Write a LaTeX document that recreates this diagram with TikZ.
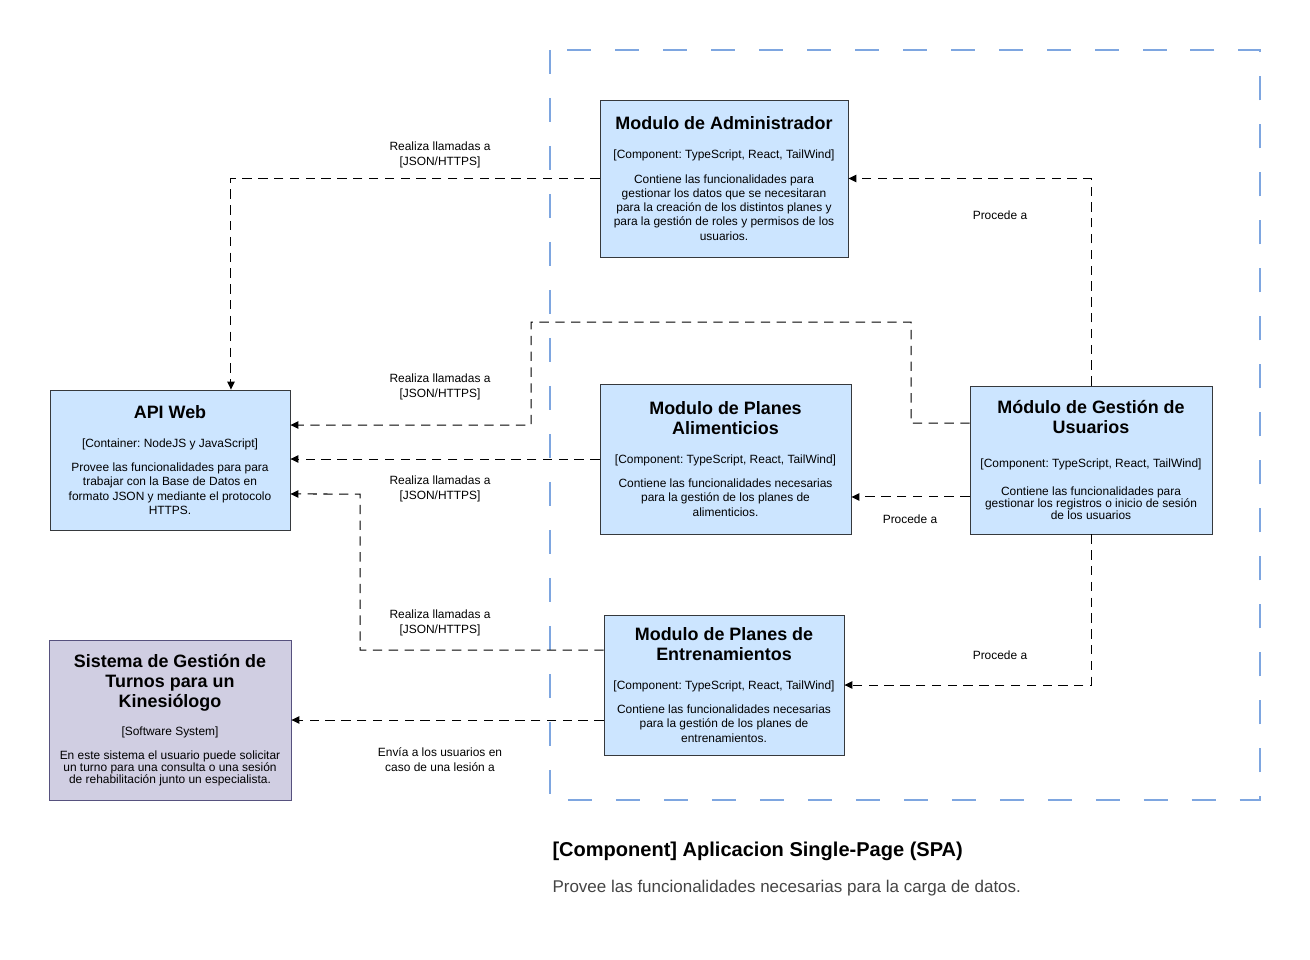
\documentclass[tikz,border=0pt]{standalone}
\usepackage{fontspec}
\setmainfont{Liberation Sans}
\usepackage{xcolor}
\usetikzlibrary{arrows.meta}

\definecolor{boxblue}{HTML}{CCE5FF}
\definecolor{boxline}{HTML}{36393D}
\definecolor{sysfill}{HTML}{D0CEE2}
\definecolor{sysline}{HTML}{56517E}
\definecolor{spablue}{HTML}{7EA6E0}
\definecolor{subgray}{HTML}{444444}

% natural word spaces of the font (align=center would force wider ones)
\newcommand{\natsp}{\frenchspacing\spaceskip=0pt\xspaceskip=0pt\relax}
% text blocks inside the boxes
\newcommand{\boxtitle}[1]{{\centering\natsp\fontsize{10.2}{11.3}\selectfont\bfseries #1\par}}
\newcommand{\boxtech}[2][8.3pt]{\vspace{#1}{\centering\natsp\fontsize{6.8}{8.1}\selectfont #2\par}}
\newcommand{\boxdesc}[2][8.1pt]{\vspace{\dimexpr 13.9pt-#1\relax}{\centering\natsp\fontsize{6.8}{#1}\selectfont #2\par}}

\begin{document}
\begin{tikzpicture}[
                x = 0.02cm, y = -0.02cm, % pixel grid
                > = {Triangle[length=4.5pt,width=4.2pt]}, % arrow head style
                semithick % line style
        ]

        \tikzstyle{component}=[
            draw = boxline,
            fill = boxblue,
            line width = 0.5pt,
            inner sep = 0pt,
            align = center
        ]
        \tikzstyle{system}=[
            component,
            draw = sysline,
            fill = sysfill
        ]
        \tikzstyle{rel}=[
            ->,
            line width = 0.57pt,
            dash pattern = on 5.3pt off 3.7pt
        ]
        \tikzstyle{rellabel}=[
            font = \fontsize{6.8}{8.5}\selectfont,
            align = center,
            inner sep = 0pt
        ]

        \useasboundingbox (0,0) rectangle (1310,959);

        % boundary of the SPA
        \draw[spablue, line width=1.13pt, dash pattern=on 0.48cm off 0.48cm] (550,50) rectangle (1260,800);

        \node[component, minimum width=4.96cm, minimum height=3.14cm, text width=4.86cm] (admin) at (724,178.5) {
            \boxtitle{Modulo de Administrador}
            \boxtech{[Component: TypeScript, React, TailWind]}
            \boxdesc{Contiene las funcionalidades para\\ gestionar los datos que se necesitaran\\ para la creación de los distintos planes y\\ para la gestión de roles y permisos de los\\ usuarios.}
        };
        \node[component, minimum width=4.8cm, minimum height=2.8cm, text width=4.7cm] (api) at (170,460) {
            \boxtitle{API Web}
            \boxtech{[Container: NodeJS y JavaScript]}
            \boxdesc{Provee las funcionalidades para para\\ trabajar con la Base de Datos en\\ formato JSON y mediante el protocolo\\ HTTPS.}
        };
        \node[system, minimum width=4.84cm, minimum height=3.2cm, text width=4.74cm] (kine) at (170,720) {
            \boxtitle{Sistema de Gestión de\\ Turnos para un\\ Kinesiólogo}
            \boxtech[7.8pt]{[Software System]}
            \boxdesc[6.8pt]{En este sistema el usuario puede solicitar\\ un turno para una consulta o una sesión\\ de rehabilitación junto un especialista.}
        };
        \node[component, minimum width=5.02cm, minimum height=3cm, text width=4.92cm] (alim) at (725.5,459) {
            \boxtitle{Modulo de Planes\\ Alimenticios}
            \boxtech{[Component: TypeScript, React, TailWind]}
            \boxdesc{Contiene las funcionalidades necesarias\\ para la gestión de los planes de\\ alimenticios.}
        };
        \node[component, minimum width=4.84cm, minimum height=2.96cm, text width=4.74cm] (users) at (1091,460) {
            \boxtitle{Módulo de Gestión de\\ Usuarios}
            \boxtech[11.2pt]{[Component: TypeScript, React, TailWind]}
            \vspace{2pt}
            \boxdesc[6.8pt]{Contiene las funcionalidades para\\ gestionar los registros o inicio de sesión\\ de los usuarios}
        };
        \node[component, minimum width=4.8cm, minimum height=2.8cm, text width=4.7cm] (train) at (724,685) {
            \boxtitle{Modulo de Planes de\\ Entrenamientos}
            \boxtech{[Component: TypeScript, React, TailWind]}
            \boxdesc{Contiene las funcionalidades necesarias\\ para la gestión de los planes de\\ entrenamientos.}
        };

        % relations
        \draw[rel] (admin.west) -| ([xshift=1.22cm]api.north);
        \draw[rel] (users.north) |- (admin.east);
        \draw[rel] ([yshift=0.74cm]users.west) -- (911,423) -- (911,322) -- (531,322) -- (531,425) -- ([yshift=0.7cm]api.east);
        \draw[rel] (alim.west) -- (alim.west -| api.east);
        \draw[rel] ([yshift=0.7cm]train.west) -- (360,650) -- (360,494) -- ([yshift=-0.68cm]api.east);
        \draw[rel] ([yshift=-0.74cm]users.west) -- ([yshift=-0.74cm]users.west -| alim.east);
        \draw[rel] (users.south) |- (train.east);
        \draw[rel] ([yshift=-0.7cm]train.west) -- ([yshift=-0.7cm]train.west -| kine.east);

        \node[rellabel] (lblAdmin) at (440,155) {\natsp Realiza llamadas a\\ {[JSON/HTTPS]}};
        \node[rellabel] (lblUsers) at (440,387) {\natsp Realiza llamadas a\\ {[JSON/HTTPS]}};
        \node[rellabel] (lblAlim) at (440,489) {\natsp Realiza llamadas a\\ {[JSON/HTTPS]}};
        \node[rellabel] (lblTrain) at (440,623) {\natsp Realiza llamadas a\\ {[JSON/HTTPS]}};
        \node[rellabel] (lblKine) at (440,760) {\natsp Envía a los usuarios en\\ caso de una lesión a};
        \node[rellabel] (procAdmin) at (1000,215) {\natsp Procede a};
        \node[rellabel] (procAlim) at (910,519) {\natsp Procede a};
        \node[rellabel] (procTrain) at (1000,655) {\natsp Procede a};

        % caption of the boundary
        \node[anchor=west, inner sep=0pt, font=\fontsize{11.4}{13}\selectfont\bfseries] (spaTitle) at (552,851) {[Component] Aplicacion Single-Page (SPA)};
        \node[anchor=west, inner sep=0pt, text=subgray, font=\fontsize{9.67}{12}\selectfont] (spaDesc) at (552,888) {Provee las funcionalidades necesarias para la carga de datos.};

\end{tikzpicture}
\end{document}
